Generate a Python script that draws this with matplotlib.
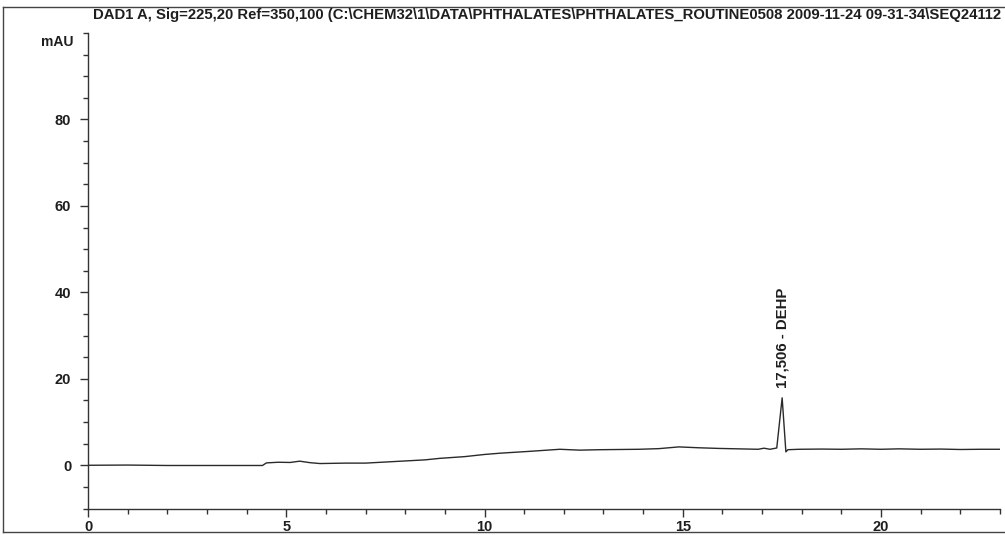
import matplotlib
matplotlib.use("Agg")
import matplotlib.pyplot as plt
from matplotlib.lines import Line2D
from matplotlib.ticker import MultipleLocator, FixedLocator

plt.rcParams['font.family'] = ['Liberation Sans', 'DejaVu Sans']
plt.rcParams['font.weight'] = 'bold'

# DAD1 A trace, retention time (min) vs absorbance (mAU)
rt_min = [0.0, 1.0, 2.0, 3.0, 4.0, 4.4, 4.5, 4.8, 5.1, 5.34, 5.6, 5.85,
          6.5, 7.0, 7.5, 8.0, 8.5, 8.87, 9.5, 10.0, 10.4, 11.1, 11.5, 11.9,
          12.4, 12.9, 13.4, 13.9, 14.4, 14.9, 15.4, 15.9, 16.4, 16.9, 17.05,
          17.2, 17.37, 17.506, 17.6, 17.65, 17.93, 18.5, 19.0, 19.5, 20.0,
          20.45, 21.0, 21.5, 22.0, 22.5, 23.0]
signal_mau = [0.0, 0.05, -0.05, -0.05, -0.05, -0.05, 0.55, 0.7, 0.65, 0.95,
              0.6, 0.4, 0.5, 0.5, 0.75, 1.0, 1.25, 1.6, 2.0, 2.5, 2.8, 3.2,
              3.45, 3.7, 3.5, 3.6, 3.65, 3.7, 3.85, 4.25, 4.05, 3.9, 3.8, 3.7,
              3.95, 3.7, 4.0, 15.6, 3.1, 3.6, 3.7, 3.75, 3.7, 3.8, 3.7, 3.8,
              3.7, 3.75, 3.65, 3.7, 3.7]

y_labelled = [0, 20, 40, 60, 80]

peak_rt = 17.506
peak_label = "17,506 - DEHP"

title = ("DAD1 A, Sig=225,20 Ref=350,100 (C:\\CHEM32\\1\\DATA\\PHTHALATES\\"
         "PHTHALATES_ROUTINE0508 2009-11-24 09-31-34\\SEQ24112")

ink = "#1e1e1e"

fig = plt.figure(figsize=(10.05, 5.35), dpi=100)
ax = fig.add_axes([88 / 1005, 1 - 508.5 / 535, 912 / 1005, 475.5 / 535])

ax.plot(rt_min, signal_mau, color="#2a2a2a", lw=1.0)

ax.set_xlim(0, 23)
ax.set_ylim(-10, 100)
ax.xaxis.set_major_locator(MultipleLocator(5))
ax.xaxis.set_minor_locator(MultipleLocator(1))
ax.yaxis.set_major_locator(FixedLocator(y_labelled))
ax.yaxis.set_minor_locator(MultipleLocator(5))

for side in ("top", "right"):
    ax.spines[side].set_visible(False)
for side in ("left", "bottom"):
    ax.spines[side].set_color("#333333")
    ax.spines[side].set_linewidth(1.0)

ax.tick_params(axis="both", which="major", direction="out", length=6,
               width=1.0, color="#333333", labelsize=10.5, labelcolor=ink)
ax.tick_params(axis="both", which="minor", direction="out", length=3.5,
               width=1.0, color="#333333")
ax.tick_params(axis="y", which="major", pad=6)
ax.tick_params(axis="x", which="major", pad=2)
for lbl in ax.get_xticklabels() + ax.get_yticklabels():
    lbl.set_fontweight("bold")

# y unit label beside the top of the axis
fig.text(73 / 1005, 1 - 42 / 535, "mAU", ha="right", va="center",
         fontsize=10, fontweight="bold", color=ink)

# peak annotation, rotated above the apex
peak_height = signal_mau[rt_min.index(peak_rt)]
ax.annotate(peak_label, xy=(peak_rt, peak_height), xytext=(0, 7),
            textcoords="offset points", rotation=90, ha="center", va="bottom",
            fontsize=10.8, fontweight="bold", color=ink)

# header line
fig.text(93 / 1005, 1 - 15 / 535, title, ha="left", va="center",
         fontsize=10.7, fontweight="bold", color=ink)

# printout frame
frame_kw = dict(color="#444444", lw=1.0, transform=fig.transFigure)
fig.add_artist(Line2D([3 / 1005, 3 / 1005], [1 - 7 / 535, 1 - 532 / 535], **frame_kw))
fig.add_artist(Line2D([3 / 1005, 1.0], [1 - 7 / 535, 1 - 7 / 535], **frame_kw))
fig.add_artist(Line2D([3 / 1005, 1.0], [1 - 532 / 535, 1 - 532 / 535], **frame_kw))

fig.savefig("out.png", dpi=100, facecolor="white")
